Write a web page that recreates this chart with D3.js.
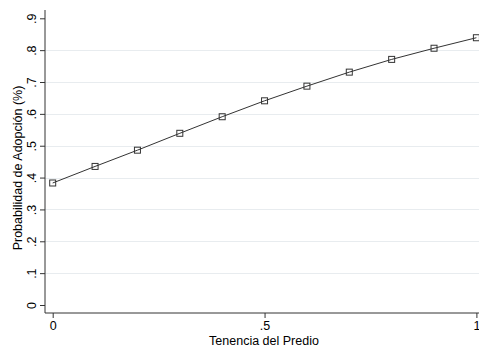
<!DOCTYPE html>
<html>
<head>
<meta charset="utf-8">
<script src="https://cdn.jsdelivr.net/npm/d3@7"></script>
<style>
  body { margin: 0; background: #fff; }
  svg { display: block; font-family: "Liberation Sans", Arial, sans-serif; }
</style>
</head>
<body>
<div id="chart"></div>
<script>
// predicted probabilities by land tenure
const tenencia = [0, 0.1, 0.2, 0.3, 0.4, 0.5, 0.6, 0.7, 0.8, 0.9, 1];
const probabilidad = [0.383, 0.435, 0.486, 0.539, 0.591, 0.641, 0.687, 0.731, 0.771, 0.806, 0.839];

const xTicks = [0, 0.5, 1];
const xTickLabels = ['0', '.5', '1'];
const yTicks = [0, 0.1, 0.2, 0.3, 0.4, 0.5, 0.6, 0.7, 0.8, 0.9];
const yTickLabels = ['0', '.1', '.2', '.3', '.4', '.5', '.6', '.7', '.8', '.9'];
const gridTicks = [0.1, 0.2, 0.3, 0.4, 0.5, 0.6, 0.7, 0.8];

const W = 479, H = 348;
const plot = { left: 45, right: 479, top: 10, bottom: 313 };
const FONT = 12.5;

const svg = d3.select('#chart').append('svg')
    .attr('width', W)
    .attr('height', H);

let x = d3.scaleLinear().domain([0, 1]).range([52.7, 476.4]);
let y = d3.scaleLinear().domain([0, 0.9]).range([305, 18.3]);

// grid
svg.append('g')
    .selectAll('line')
    .data(gridTicks)
    .join('line')
    .attr('x1', plot.left)
    .attr('x2', plot.right)
    .attr('y1', d => Math.round(y(d)) + 0.5)
    .attr('y2', d => Math.round(y(d)) + 0.5)
    .attr('stroke', '#e8ecef')
    .attr('stroke-width', 1);

// y axis
let yAxis = d3.axisLeft(y)
    .tickValues(yTicks)
    .tickFormat((d, i) => yTickLabels[i])
    .tickSize(5)
    .tickSizeOuter(0);
let gY = svg.append('g')
    .attr('transform', 'translate(' + plot.left + ',0)')
    .call(yAxis);
gY.select('.domain').attr('d', 'M0,' + plot.top + 'V' + plot.bottom);
gY.selectAll('line, path').attr('stroke', '#333');
gY.selectAll('text')
    .attr('font-size', FONT)
    .attr('fill', '#000')
    .attr('x', 0)
    .attr('y', 0)
    .attr('dy', 0)
    .attr('transform', 'translate(-9.5,0) rotate(-90)')
    .attr('text-anchor', 'middle');

// x axis
let xAxis = d3.axisBottom(x)
    .tickValues(xTicks)
    .tickFormat((d, i) => xTickLabels[i])
    .tickSize(5)
    .tickSizeOuter(0)
    .tickPadding(3);
let gX = svg.append('g')
    .attr('transform', 'translate(0,' + plot.bottom + ')')
    .call(xAxis);
gX.select('.domain').attr('d', 'M' + plot.left + ',0H' + plot.right);
gX.selectAll('line, path').attr('stroke', '#333');
gX.selectAll('text')
    .attr('font-size', FONT)
    .attr('fill', '#000');

// axis titles
svg.append('text')
    .attr('x', 264)
    .attr('y', 345)
    .attr('text-anchor', 'middle')
    .attr('font-size', FONT)
    .text('Tenencia del Predio');

svg.append('text')
    .attr('transform', 'translate(21.5,168) rotate(-90)')
    .attr('text-anchor', 'middle')
    .attr('font-size', FONT)
    .text('Probabilidad de Adopción (%)');

// line + markers
let data = tenencia.map((t, i) => ({ x: t, y: probabilidad[i] }));

svg.append('path')
    .datum(data)
    .attr('fill', 'none')
    .attr('stroke', '#333')
    .attr('stroke-width', 1)
    .attr('d', d3.line().x(d => x(d.x)).y(d => y(d.y)));

svg.append('g')
    .selectAll('rect')
    .data(data)
    .join('rect')
    .attr('x', d => x(d.x) - 3)
    .attr('y', d => y(d.y) - 3)
    .attr('width', 6)
    .attr('height', 6)
    .attr('fill', 'none')
    .attr('stroke', '#333')
    .attr('stroke-width', 1);
</script>
</body>
</html>
